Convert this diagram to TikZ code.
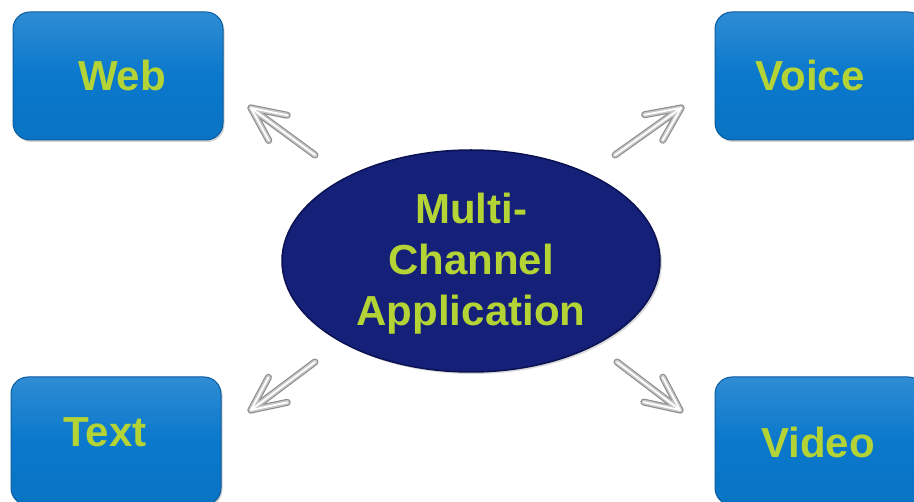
\documentclass[tikz,border=0pt]{standalone}
\usepackage{fontspec}
\setmainfont{Liberation Sans}
\usetikzlibrary{calc,shadows,shapes.geometric}
\definecolor{chanblue}{HTML}{0A78CC}
\definecolor{chanrim}{HTML}{0B5C9E}
\definecolor{hubnavy}{HTML}{152079}
\definecolor{hubrim}{HTML}{0B1252}
\definecolor{lime}{HTML}{B4D335}
\tikzset{
  x=1pt, y=-1pt,
  chanbox/.style={draw=chanrim, line width=1pt, rounded corners=17pt,
    top color=chanblue!85!white, bottom color=chanblue!96!black,
    middle color=chanblue,
    drop shadow={opacity=0.35, shadow xshift=1.5pt, shadow yshift=-2pt},
    minimum width=210pt, minimum height=128pt, inner sep=0pt},
  chanlabel/.style={text=lime, inner sep=0pt,
    font=\bfseries\fontsize{42}{51}\selectfont},
  hub/.style={ellipse, draw=hubrim, line width=1.5pt, fill=hubnavy,
    drop shadow={opacity=0.3, shadow xshift=2pt, shadow yshift=-2pt},
    minimum width=378pt, minimum height=222pt, inner sep=0pt},
  shaftdark/.style={draw=gray!90, line width=7pt, line cap=round, line join=round},
  shaftmid/.style={draw=gray!45, line width=4.8pt, line cap=round, line join=round},
  shaftlight/.style={draw=white, line width=1.8pt, line cap=round, line join=round},
}
% a chrome arrow with an open chevron head, from #1 to #2
\newcommand\chromearrow[2]{%
  \foreach \layer in {shaftdark,shaftmid,shaftlight}{%
    \draw[\layer] (#1) -- (#2);
    \draw[\layer] ($(#2)!37pt!25:(#1)$) -- (#2) -- ($(#2)!37pt!-25:(#1)$);
  }%
}
\begin{document}
\begin{tikzpicture}
  \useasboundingbox (0,0) rectangle (914,502);
  \fill[white] (0,0) rectangle (914,502);

  % channel boxes
  \node[chanbox] (web)   at (118,76)  {};
  \node[chanbox] (voice) at (820,76)  {};
  \node[chanbox] (text)  at (116,441) {};
  \node[chanbox] (video) at (820,441) {};

  \node[chanlabel] (webtext)   at (122,75)  {Web};
  \node[chanlabel] (voicetext) at (810,75)  {Voice};
  \node[chanlabel] (texttext)  at (105,432) {Text};
  \node[chanlabel] (videotext) at (818,442) {Video};

  % central application
  \node[hub] (hub) at (471,261) {};
  \node[chanlabel, align=center] (hubtext) at (471,264)
    {Multi-\\Channel\\Application};

  % arrow end points
  \coordinate (webtail)   at (315,155);
  \coordinate (webtip)    at (251,108);
  \coordinate (voicetail) at (615,155);
  \coordinate (voicetip)  at (681,108);
  \coordinate (texttail)  at (315,362);
  \coordinate (texttip)   at (251,410);
  \coordinate (videotail) at (617,362);
  \coordinate (videotip)  at (680,410);

  \chromearrow{webtail}{webtip}
  \chromearrow{voicetail}{voicetip}
  \chromearrow{texttail}{texttip}
  \chromearrow{videotail}{videotip}
\end{tikzpicture}
\end{document}
